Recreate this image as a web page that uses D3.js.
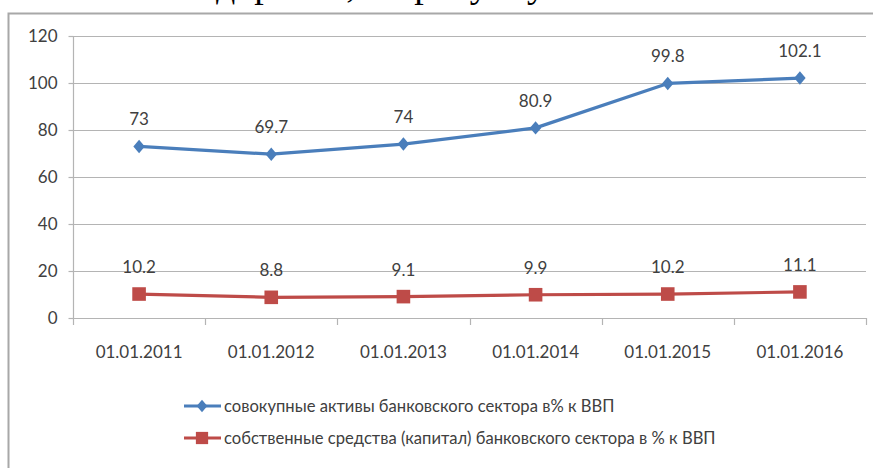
<!DOCTYPE html>
<html><head><meta charset="utf-8">
<script src="https://cdn.jsdelivr.net/npm/d3@7"></script>
<style>
  body { margin: 0; background: #fff; }
  svg { display: block; }
  svg text { font-family: Lato, "Noto Sans", sans-serif; }
</style>
</head><body>
<svg id="chart" width="873" height="468"></svg>
<script>
// Банковский сектор: активы и капитал, % к ВВП
const categories = ["01.01.2011", "01.01.2012", "01.01.2013", "01.01.2014", "01.01.2015", "01.01.2016"];
const assets  = [73, 69.7, 74, 80.9, 99.8, 102.1];
const capital = [10.2, 8.8, 9.1, 9.9, 10.2, 11.1];
const yTicks = [0, 20, 40, 60, 80, 100, 120];
const seriesNames = [
  "совокупные активы банковского сектора в% к ВВП",
  "собственные средства (капитал) банковского сектора в % к ВВП"
];

const blue = "#4a7ebb", red = "#be4b48", grid = "#b4b4b4", ink = "#404040";

// compact diamond marker, a little taller than wide
const diamondMarker = {
  draw(ctx, size) {
    const h = Math.sqrt(size) * 0.55, w = h * 0.85;
    ctx.moveTo(0, -h); ctx.lineTo(w, 0); ctx.lineTo(0, h); ctx.lineTo(-w, 0); ctx.closePath();
  }
};

const svg = d3.select("#chart");

// caption line above the chart frame (only its lower edge is in view)
svg.append("text")
  .attr("x", 216).attr("y", -3)
  .style("font-family", "'Liberation Serif', serif")
  .style("font-size", "38px").attr("fill", "#000")
  .text("дорогой, по рисунку");

// chart frame
svg.append("path")
  .attr("d", "M8.5,468 V13.5 H873")
  .attr("fill", "none").attr("stroke", "#a8a8a8").attr("stroke-width", 2);

const x = d3.scaleBand().domain(categories).range([73, 866]);
const y = d3.scaleLinear().domain([0, 120]).range([318, 36]);
const cx = d => x(d) + x.bandwidth() / 2;

// horizontal gridlines
svg.append("g").selectAll("line").data(yTicks.filter(v => v > 0)).join("line")
  .attr("x1", 73).attr("x2", 866)
  .attr("y1", d => Math.round(y(d)) + 0.5).attr("y2", d => Math.round(y(d)) + 0.5)
  .attr("stroke", grid).attr("stroke-width", 1.2);

// value axis
const yAxis = svg.append("g").attr("transform", "translate(73.5,0)")
  .call(d3.axisLeft(y).tickValues(yTicks).tickSize(5).tickPadding(11).tickFormat(d3.format("d")));
yAxis.select(".domain").attr("stroke", grid).attr("stroke-width", 1.2).attr("d", `M0,${y(120)}V${y(0)}`);
yAxis.selectAll(".tick line").attr("stroke", grid).attr("stroke-width", 1.2);
yAxis.selectAll(".tick text").attr("fill", ink).style("font-size", "17px");

// category axis
const xAxis = svg.append("g").attr("transform", `translate(0,${Math.round(y(0)) + 0.5})`)
  .call(d3.axisBottom(x).tickSize(0).tickPadding(27));
xAxis.select(".domain").attr("stroke", grid).attr("stroke-width", 1.2).attr("d", "M73,0H866");
xAxis.selectAll(".tick text").attr("fill", ink).style("font-size", "17px");
svg.append("g").selectAll("line")
  .data(categories.map(c => x(c)).concat([x.range()[1]])).join("line")
  .attr("x1", d => Math.round(d) + 0.5).attr("x2", d => Math.round(d) + 0.5)
  .attr("y1", Math.round(y(0))).attr("y2", Math.round(y(0)) + 7)
  .attr("stroke", grid).attr("stroke-width", 1.2);

const line = d3.line().x((d, i) => cx(categories[i])).y(d => y(d));

function drawSeries(values, color, symbol, size) {
  const g = svg.append("g");
  g.append("path").datum(values).attr("d", line)
    .attr("fill", "none").attr("stroke", color).attr("stroke-width", 3.2)
    .attr("stroke-linejoin", "round");
  g.selectAll("path.m").data(values).join("path").attr("class", "m")
    .attr("d", d3.symbol().type(symbol).size(size))
    .attr("transform", (d, i) => `translate(${cx(categories[i])},${y(d)})`)
    .attr("fill", color);
  g.selectAll("text").data(values).join("text")
    .attr("x", (d, i) => cx(categories[i])).attr("y", d => y(d) - 27)
    .attr("text-anchor", "middle").attr("dy", "0.35em")
    .attr("fill", ink).style("font-size", "17px")
    .text(d => d);
}
drawSeries(assets, blue, diamondMarker, 150);
drawSeries(capital, red, d3.symbolSquare, 185);

// legend
const legend = svg.append("g");
const legendItems = [
  { name: seriesNames[0], color: blue, symbol: diamondMarker, size: 130, y: 406 },
  { name: seriesNames[1], color: red, symbol: d3.symbolSquare, size: 150, y: 438 }
];
legendItems.forEach(it => {
  legend.append("line").attr("x1", 184).attr("x2", 221).attr("y1", it.y).attr("y2", it.y)
    .attr("stroke", it.color).attr("stroke-width", 3.2);
  legend.append("path").attr("d", d3.symbol().type(it.symbol).size(it.size))
    .attr("transform", `translate(202,${it.y})`).attr("fill", it.color);
  legend.append("text").attr("x", 224).attr("y", it.y).attr("dy", "0.35em")
    .attr("fill", ink).style("font-size", "16.6px").text(it.name);
});
</script></body></html>
